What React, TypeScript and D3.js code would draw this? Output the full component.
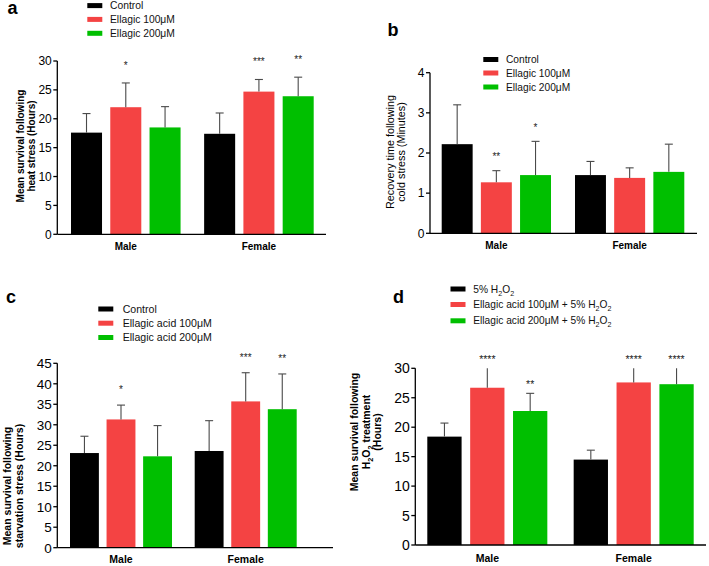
import React from "react";
import * as d3 from "d3";

const categories = ["Male", "Female"];
const barColors = ["#000000", "#f44343", "#00bf00"];

// Panel a: heat stress (hours)
const heatSeries = ["Control", "Ellagic 100μM", "Ellagic 200μM"];
const heatMean = [[17.6, 17.4], [22.0, 24.7], [18.5, 23.9]];
const heatErr = [[3.3, 3.6], [4.2, 2.1], [3.6, 3.3]];
const heatStars = [["", ""], ["*", "***"], ["", "**"]];
const heatTicks = [0, 5, 10, 15, 20, 25, 30];

// Panel b: cold stress recovery (minutes)
const coldSeries = ["Control", "Ellagic 100μM", "Ellagic 200μM"];
const coldMean = [[2.22, 1.45], [1.27, 1.38], [1.45, 1.53]];
const coldErr = [[0.98, 0.34], [0.29, 0.25], [0.84, 0.69]];
const coldStars = [["", ""], ["**", ""], ["*", ""]];
const coldTicks = [0, 1, 2, 3, 4];

// Panel c: starvation stress (hours)
const starvSeries = ["Control", "Ellagic acid 100μM", "Ellagic acid 200μM"];
const starvMean = [[23.1, 23.6], [31.3, 35.7], [22.3, 33.8]];
const starvErr = [[4.1, 7.4], [3.5, 7.0], [7.5, 8.6]];
const starvStars = [["", ""], ["*", "***"], ["", "**"]];
const starvTicks = [0, 5, 10, 15, 20, 25, 30, 35, 40, 45];

// Panel d: H2O2 treatment (hours)
const h2o2Series = ["5% H_2O_2", "Ellagic acid 100μM + 5% H_2O_2", "Ellagic acid 200μM + 5% H_2O_2"];
const h2o2Mean = [[18.4, 14.5], [26.7, 27.6], [22.75, 27.3]];
const h2o2Err = [[2.3, 1.6], [4.0, 3.5], [3.0, 3.6]];
const h2o2Stars = [["", ""], ["****", "****"], ["**", "****"]];
const h2o2Ticks = [0, 5, 10, 15, 20, 25, 30];

const FONT = "'Liberation Sans', Arial, Helvetica, sans-serif";

// "_d" marks a subscript digit; base offset (e.g. 0.35em centring) is applied on the first tspan
function rich(text: string, fs: number, baseDy: number) {
  const parts = text.split(/_(\d)/);
  const out: any[] = [];
  const shift = fs * 0.3;
  let offset = 0;
  let first = true;
  parts.forEach((p, i) => {
    if (!p.length) return;
    const extra = first ? baseDy : 0;
    first = false;
    if (i % 2 === 1) {
      out.push(
        <tspan key={i} dy={shift - offset + extra} fontSize={fs * 0.7}>{p}</tspan>
      );
      offset = shift;
    } else {
      const d = -offset + extra;
      out.push(<tspan key={i} dy={d !== 0 ? d : undefined}>{p}</tspan>);
      offset = 0;
    }
  });
  return out;
}

type PanelCfg = {
  letter: string; letterX: number; letterY: number;
  series: string[]; mean: number[][]; err: number[][]; stars: string[][];
  ticks: number[]; yMax: number; yBottom: number; yTop: number;
  axisX: number; axisRight: number; groupRange: [number, number];
  outerPadInner: number; innerPad: number;
  tickFs: number; catFs: number; catY: number;
  yLabel: string[]; yLabelXs: number[]; yLabelY: number; yLabelFs: number; yLabelWeight: string;
  legRectX: number; legTextX: number; legYs: number[]; legFs: number;
  starOffset: number; starFs: number;
};

function Panel({ c }: { c: PanelCfg }) {
  const y = d3.scaleLinear().domain([0, c.yMax]).range([c.yBottom, c.yTop]);
  const xOuter = d3.scaleBand<string>().domain(categories).range(c.groupRange).paddingInner(c.outerPadInner).paddingOuter(0);
  const idx = c.series.map((_, i) => String(i));
  const xInner = d3.scaleBand<string>().domain(idx).range([0, xOuter.bandwidth()]).paddingInner(c.innerPad).paddingOuter(0);
  const bw = xInner.bandwidth();

  const bars: any[] = [];
  const errs: any[] = [];
  const stars: any[] = [];
  categories.forEach((cat, ci) => {
    c.series.forEach((_, si) => {
      const m = c.mean[si][ci];
      const e = c.err[si][ci];
      const x = (xOuter(cat) as number) + (xInner(String(si)) as number);
      const cx = x + bw / 2;
      const top = m + e;
      const clipped = top > c.yMax;
      const topPx = y(Math.min(top, c.yMax));
      bars.push(
        <rect key={`b${ci}${si}`} x={x} y={y(m)} width={bw} height={y(0) - y(m)} fill={barColors[si]} />
      );
      errs.push(
        <g key={`e${ci}${si}`} stroke="#4a4a4a" strokeWidth={1.1}>
          <line x1={cx} x2={cx} y1={y(m)} y2={topPx} />
          {!clipped && <line x1={cx - 4} x2={cx + 4} y1={topPx} y2={topPx} />}
        </g>
      );
      const s = c.stars[si][ci];
      if (s) {
        stars.push(
          <text key={`s${ci}${si}`} x={cx} y={topPx - c.starOffset + 0.57 * c.starFs} textAnchor="middle" fontSize={c.starFs} fill="#222">{s}</text>
        );
      }
    });
  });

  return (
    <g fontFamily={FONT}>
      <text x={c.letterX} y={c.letterY} fontSize={18} fontWeight="bold" fill="#000">{c.letter}</text>
      {c.series.map((s, i) => (
        <g key={`l${i}`}>
          <rect x={c.legRectX} y={c.legYs[i] - 2.5} width={15} height={5} fill={barColors[i]} />
          <text x={c.legTextX} y={c.legYs[i]} fontSize={c.legFs} fill="#111">{rich(s, c.legFs, c.legFs * 0.35)}</text>
        </g>
      ))}
      {bars}
      {errs}
      {stars}
      <line x1={c.axisX} x2={c.axisX} y1={y(c.yMax)} y2={y(0)} stroke="#000" strokeWidth={1.3} />
      <line x1={c.axisX} x2={c.axisRight} y1={y(0)} y2={y(0)} stroke="#000" strokeWidth={1.3} />
      {c.ticks.map((t) => (
        <g key={`t${t}`}>
          <line x1={c.axisX - 4} x2={c.axisX} y1={y(t)} y2={y(t)} stroke="#000" strokeWidth={1.3} />
          <text x={c.axisX - 5.5} y={y(t)} dy="0.36em" textAnchor="end" fontSize={c.tickFs} fill="#000">{t}</text>
        </g>
      ))}
      {categories.map((cat) => (
        <text key={cat} x={(xOuter(cat) as number) + xOuter.bandwidth() / 2} y={c.catY} textAnchor="middle" fontSize={c.catFs} fontWeight="bold" fill="#000">{cat}</text>
      ))}
      {c.yLabel.map((l, i) => (
        <text key={`yl${i}`} transform={`translate(${c.yLabelXs[i]},${c.yLabelY}) rotate(-90)`} textAnchor="middle" fontSize={c.yLabelFs} fontWeight={c.yLabelWeight} fill="#000">{rich(l, c.yLabelFs, c.yLabelFs * 0.35)}</text>
      ))}
    </g>
  );
}

const panels: PanelCfg[] = [
  {
    letter: "a", letterX: 7.5, letterY: 14,
    series: heatSeries, mean: heatMean, err: heatErr, stars: heatStars,
    ticks: heatTicks, yMax: 30, yBottom: 234.3, yTop: 61,
    axisX: 57.3, axisRight: 326, groupRange: [71, 313.7], outerPadInner: 0.177, innerPad: 0.21,
    tickFs: 12, catFs: 10, catY: 250,
    yLabel: ["Mean survival following", "heat stress (Hours)"], yLabelXs: [20.8, 31.8], yLabelY: 146, yLabelFs: 10, yLabelWeight: "bold",
    legRectX: 87.3, legTextX: 110, legYs: [5.6, 19.4, 33.3], legFs: 10.3,
    starOffset: 20, starFs: 10,
  },
  {
    letter: "b", letterX: 387.5, letterY: 36,
    series: coldSeries, mean: coldMean, err: coldErr, stars: coldStars,
    ticks: coldTicks, yMax: 4, yBottom: 233.3, yTop: 72.7,
    axisX: 430, axisRight: 697, groupRange: [441.7, 684.3], outerPadInner: 0.18, innerPad: 0.21,
    tickFs: 12, catFs: 10, catY: 249.3,
    yLabel: ["Recovery time following", "cold stress (Minutes)"], yLabelXs: [390, 401.7], yLabelY: 152, yLabelFs: 10.8, yLabelWeight: "normal",
    legRectX: 483.3, legTextX: 506, legYs: [59.5, 73, 87], legFs: 10.2,
    starOffset: 16.5, starFs: 10,
  },
  {
    letter: "c", letterX: 6, letterY: 302.7,
    series: starvSeries, mean: starvMean, err: starvErr, stars: starvStars,
    ticks: starvTicks, yMax: 45, yBottom: 547.7, yTop: 363.3,
    axisX: 57.3, axisRight: 333, groupRange: [70, 296.7], outerPadInner: 0.182, innerPad: 0.21,
    tickFs: 13.5, catFs: 10.5, catY: 563.3,
    yLabel: ["Mean survival following", "starvation stress (Hours)"], yLabelXs: [7.8, 19.3], yLabelY: 486, yLabelFs: 10.5, yLabelWeight: "bold",
    legRectX: 98.3, legTextX: 122.7, legYs: [309, 323.2, 337.5], legFs: 10.6,
    starOffset: 17.5, starFs: 10,
  },
  {
    letter: "d", letterX: 393, letterY: 302.7,
    series: h2o2Series, mean: h2o2Mean, err: h2o2Err, stars: h2o2Stars,
    ticks: h2o2Ticks, yMax: 30, yBottom: 545, yTop: 368.3,
    axisX: 415.3, axisRight: 706, groupRange: [427.3, 693.7], outerPadInner: 0.18, innerPad: 0.2,
    tickFs: 14, catFs: 10.5, catY: 561.7,
    yLabel: ["Mean survival following", "H_2O_2 treatment", "(Hours)"], yLabelXs: [354.5, 366, 377.5], yLabelY: 432, yLabelFs: 10.5, yLabelWeight: "bold",
    legRectX: 450.5, legTextX: 473.3, legYs: [289, 304.5, 320.8], legFs: 10.2,
    starOffset: 11, starFs: 10.5,
  },
];

export default function App() {
  return (
    <svg
      width={709}
      height={566}
      viewBox="0 0 709 566"
      style={{ position: "absolute", left: 0, top: 0, background: "#fff" }}
    >
      <rect x={0} y={0} width={709} height={566} fill="#fff" />
      {panels.map((p) => (
        <Panel key={p.letter} c={p} />
      ))}
    </svg>
  );
}
